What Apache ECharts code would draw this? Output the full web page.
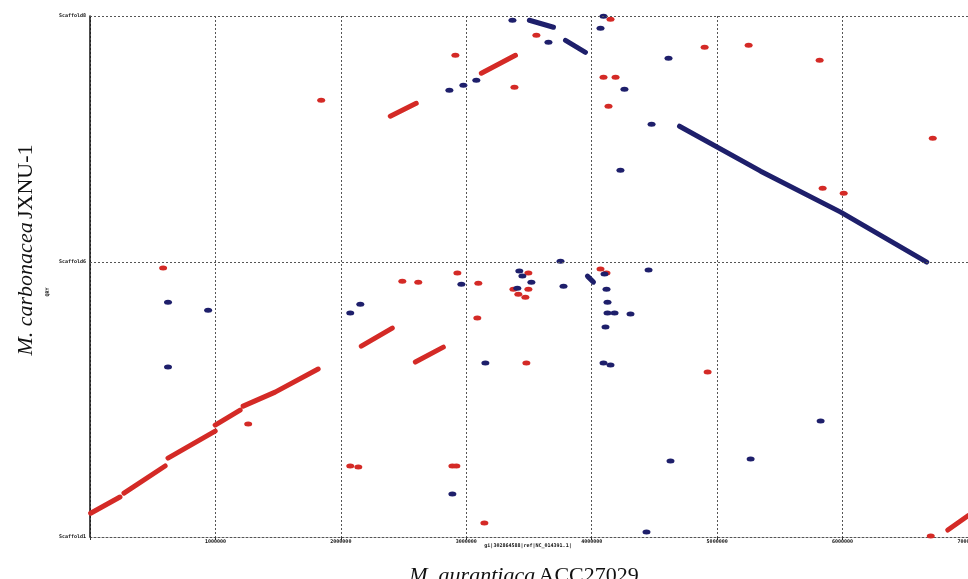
<!DOCTYPE html>
<html>
<head>
<meta charset="utf-8">
<script src="https://cdn.jsdelivr.net/npm/echarts@6/dist/echarts.min.js"></script>
<style>
  html, body { margin: 0; padding: 0; background: #fff; }
  #dotplot { width: 968px; height: 579px; }
</style>
</head>
<body>
<div id="dotplot"></div>
<script>
// positions in kb: x = reference (M. aurantiaca), y = query scaffolds (M. carbonacea)
const xTicks = [0, 1000, 2000, 3000, 4000, 5000, 6000, 7000]
const yScaffoldStarts = [0, 2195, 4160]
const yScaffoldNames = ['Scaffold1', 'Scaffold6', 'Scaffold8']

// forward matches drawn as runs
const redRuns = [
  [[5, 190], [239, 319]],
  [[271, 351], [599, 567]],
  [[622, 630], [998, 846]],
  [[998, 894], [1197, 1013]],
  [[1221, 1045], [1476, 1157], [1819, 1341]],
  [[2163, 1524], [2410, 1668]],
  [[2594, 1397], [2817, 1516]],
  [[2394, 3360], [2601, 3463]],
  [[3120, 3703], [3392, 3846]],
  [[6839, 56], [7000, 170]]
]
const redDots = [
  [583, 2147], [1261, 902], [2075, 567], [2139, 559], [1843, 3487],
  [2490, 2043], [2617, 2035], [2889, 567], [2921, 567], [2929, 2107],
  [3096, 2027], [3088, 1748], [3144, 112], [3479, 1389], [3495, 2107],
  [3376, 1979], [3495, 1979], [3415, 1939], [3471, 1915], [4070, 2139],
  [4118, 2107], [4924, 1317], [6703, 8], [2913, 3846], [3384, 3591],
  [3559, 4006], [4150, 4134], [4094, 3671], [4190, 3671], [4134, 3439],
  [4900, 3910], [5251, 3926], [5817, 3806], [6719, 3184], [5841, 2785],
  [6009, 2745]
]

// reverse matches
const blueRuns = [
  [[4700, 3280], [5347, 2921], [5985, 2594], [6671, 2195]],
  [[3503, 4126], [3695, 4070]],
  [[3791, 3966], [3950, 3870]],
  [[3966, 2083], [4014, 2035]]
]
const blueDots = [
  [622, 1875], [942, 1811], [622, 1357], [2075, 1788], [2155, 1859],
  [2889, 343], [2961, 2019], [3152, 1389], [3423, 2123], [3447, 2083],
  [3519, 2035], [3407, 1987], [3751, 2202], [3775, 2003], [4102, 2099],
  [4118, 1979], [4126, 1875], [4126, 1788], [4182, 1788], [4309, 1780],
  [4110, 1676], [4094, 1389], [4150, 1373], [4453, 2131], [4628, 606],
  [5267, 622], [5825, 926], [4437, 40], [2865, 3567], [2977, 3607],
  [3080, 3647], [3368, 4126], [3655, 3950], [4070, 4062], [4094, 4158],
  [4261, 3575], [4477, 3296], [4229, 2929], [4612, 3822]
]

const RED = '#d42a26'
const BLUE = '#1e1f6b'
const GRID = '#555'

const chart = echarts.init(document.getElementById('dotplot'))

const series = []
redRuns.forEach(run => {
  series.push({
    type: 'line', data: run, symbol: 'none', silent: true,
    lineStyle: { color: RED, width: 5, cap: 'round', join: 'round' }
  })
})
blueRuns.forEach(run => {
  series.push({
    type: 'line', data: run, symbol: 'none', silent: true,
    lineStyle: { color: BLUE, width: 5, cap: 'round', join: 'round' }
  })
})
series.push({
  type: 'scatter', data: redDots, symbol: 'circle', symbolSize: [8, 5],
  itemStyle: { color: RED, opacity: 1 }
})
series.push({
  type: 'scatter', data: blueDots, symbol: 'circle', symbolSize: [8, 5],
  itemStyle: { color: BLUE, opacity: 1 },
  markLine: {
    silent: true, symbol: 'none', label: { show: false },
    lineStyle: { color: GRID, type: [2, 2], width: 1 },
    data: [{ yAxis: yScaffoldStarts[1] }, { yAxis: yScaffoldStarts[2] }]
  }
})

chart.setOption({
  animation: false,
  grid: { left: 90, right: 0, top: 16, bottom: 42, outerBoundsMode: 'none' },
  xAxis: {
    type: 'value', min: 0, max: 7000, interval: 1000,
    axisLine: { lineStyle: { color: GRID, type: [2, 2], width: 1 } },
    axisTick: { show: true, length: 3, lineStyle: { color: '#333' } },
    axisLabel: {
      fontSize: 5, fontWeight: 'bold', color: '#111', margin: 2,
      fontFamily: 'DejaVu Sans Mono',
      formatter: v => (v === 0 ? '' : String(v * 1000))
    },
    splitLine: { show: true, lineStyle: { color: GRID, type: [2, 2], width: 1 } }
  },
  yAxis: {
    type: 'value', min: 0, max: 4160,
    axisLine: { show: true, lineStyle: { color: '#111', width: 1.5 } },
    axisTick: { show: false },
    splitLine: { show: false },
    axisLabel: {
      customValues: yScaffoldStarts,
      fontSize: 5, fontWeight: 'bold', color: '#111', margin: 4,
      fontFamily: 'DejaVu Sans Mono',
      formatter: v => yScaffoldNames[yScaffoldStarts.indexOf(v)] || ''
    }
  },
  graphic: [
    {
      type: 'text', x: 26, y: 250, rotation: Math.PI / 2,
      style: {
        text: '{i|M. carbonacea} {n|JXNU-1}',
        align: 'center', verticalAlign: 'middle',
        rich: {
          i: { fontFamily: 'Liberation Serif', fontStyle: 'italic', fontSize: 22, fill: '#111' },
          n: { fontFamily: 'Liberation Serif', fontSize: 22, fill: '#111' }
        }
      }
    },
    {
      type: 'text', x: 524, y: 576,
      style: {
        text: '{i|M. aurantiaca} {n|ACC27029}',
        align: 'center', verticalAlign: 'middle',
        rich: {
          i: { fontFamily: 'Liberation Serif', fontStyle: 'italic', fontSize: 22, fill: '#111' },
          n: { fontFamily: 'Liberation Serif', fontSize: 22, fill: '#111' }
        }
      }
    },
    {
      type: 'text', x: 528, y: 546,
      style: {
        text: 'gi|302864588|ref|NC_014391.1|',
        align: 'center', verticalAlign: 'middle',
        fontFamily: 'DejaVu Sans Mono', fontSize: 5, fontWeight: 'bold', fill: '#111'
      }
    },
    {
      type: 'text', x: 48, y: 292, rotation: Math.PI / 2,
      style: {
        text: 'QRY', align: 'center', verticalAlign: 'middle',
        fontFamily: 'DejaVu Sans Mono', fontSize: 5, fontWeight: 'bold', fill: '#111'
      }
    }
  ],
  series: series
})
</script>
</body>
</html>
